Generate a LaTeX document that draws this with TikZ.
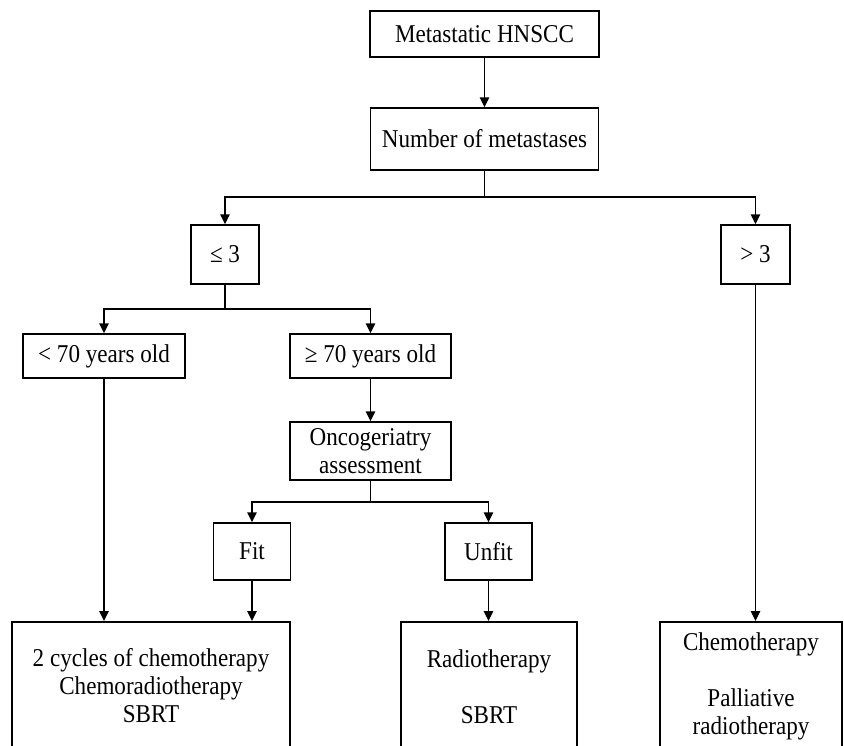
\documentclass[tikz,border=0pt]{standalone}
\usepackage{fontspec}
\setmainfont{Liberation Serif}[FakeStretch=0.9]
\usetikzlibrary{arrows.meta}

\begin{document}
\begin{tikzpicture}[x=0.02cm, y=-0.02cm,
  every node/.style={font=\fontsize{14.6}{15.9}\selectfont},
  box/.style={draw, line width=0.85pt, inner sep=0pt, align=center},
  link/.style={line width=0.85pt},
  arr/.style={line width=0.85pt, -{Triangle[length=2mm,width=1.9mm]}}]
\useasboundingbox (0,0) rectangle (844,745) ;
\clip (0,0) rectangle (844,745) ;
\node[box, minimum width=4.58cm, minimum height=0.92cm] (meta) at (484.5,34) {Metastatic HNSCC} ;
\node[box, minimum width=4.56cm, minimum height=1.24cm] (num) at (484.5,139) {Number of metastases} ;
\node[box, minimum width=1.36cm, minimum height=1.18cm] (le3) at (225,254.5) {≤ 3} ;
\node[box, minimum width=1.38cm, minimum height=1.18cm] (gt3) at (755.5,254.5) {> 3} ;
\node[box, minimum width=3.24cm, minimum height=0.88cm] (young) at (104,356) {< 70 years old} ;
\node[box, minimum width=3.22cm, minimum height=0.88cm] (old) at (370.5,356) {≥ 70 years old} ;
\node[box, minimum width=3.22cm, minimum height=1.16cm] (onco) at (370.5,451) {Oncogeriatry\\assessment} ;
\node[box, minimum width=1.54cm, minimum height=1.14cm] (fit) at (252,551.5) {Fit} ;
\node[box, minimum width=1.74cm, minimum height=1.14cm] (unfit) at (488.5,551.5) {Unfit} ;
% bottom boxes run off the page
\node[box, anchor=north, minimum width=5.56cm, minimum height=3cm] (leftbox) at (151,621) {} ;
\node[box, anchor=north, minimum width=3.52cm, minimum height=3cm] (midbox) at (489,621) {} ;
\node[box, anchor=north, minimum width=3.64cm, minimum height=3cm] (rightbox) at (751,621) {} ;
\node[align=center] (lefttxt) at (151,686) {2 cycles of chemotherapy\\Chemoradiotherapy\\SBRT} ;
\node[align=center] (midtxt) at (489,686.5) {Radiotherapy\\[\baselineskip]SBRT} ;
\node[align=center] (righttxt) at (751,686.5) {Chemotherapy\\[\baselineskip]Palliative\\radiotherapy} ;
\coordinate (split1) at (484.5,197) ;
\coordinate (split2) at (225,309) ;
\coordinate (split3) at (370.5,502) ;
\draw[arr] (meta) -- (num) ;
\draw[link] (num) -- (split1) ;
\draw[arr] (split1) -| (le3) ;
\draw[arr] (split1) -| (gt3) ;
\draw[link] (le3) -- (split2) ;
\draw[arr] (split2) -| (young) ;
\draw[arr] (split2) -| (old) ;
\draw[arr] (old) -- (onco) ;
\draw[link] (onco) -- (split3) ;
\draw[arr] (split3) -| (fit) ;
\draw[arr] (split3) -| (unfit) ;
\draw[arr] (young) -- (young |- leftbox.north) ;
\draw[arr] (fit) -- (fit |- leftbox.north) ;
\draw[arr] (unfit) -- (unfit |- midbox.north) ;
\draw[arr] (gt3) -- (gt3 |- rightbox.north) ;
\end{tikzpicture}
\end{document}
